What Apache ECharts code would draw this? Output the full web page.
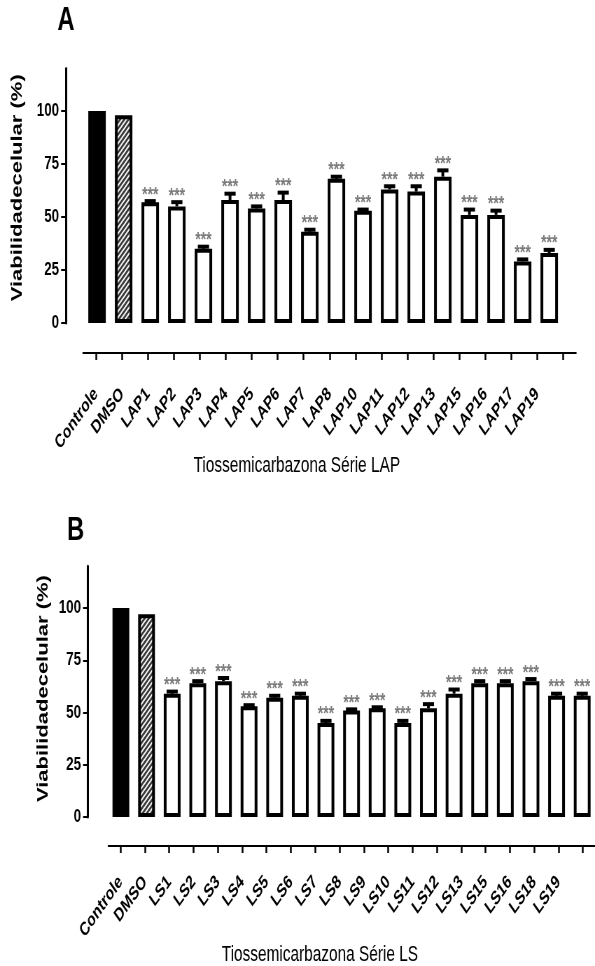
<!DOCTYPE html>
<html>
<head>
<meta charset="utf-8">
<script src="https://cdn.jsdelivr.net/npm/echarts@6/dist/echarts.min.js"></script>
<style>
  html, body { margin: 0; padding: 0; background: #fff; overflow: hidden; width: 595px; height: 966px; }
  /* the figure is laid out on a wider canvas and condensed horizontally */
  #chart { width: 850px; height: 966px; transform: scaleX(0.7); transform-origin: 0 0; }
</style>
</head>
<body>
<div id="chart"></div>
<script>
// ---- Panel A: thiosemicarbazones, LAP series ----
const lapCategories = ['Controle', 'DMSO', 'LAP1', 'LAP2', 'LAP3', 'LAP4', 'LAP5', 'LAP6', 'LAP7', 'LAP8',
  'LAP10', 'LAP11', 'LAP12', 'LAP13', 'LAP15', 'LAP16', 'LAP17', 'LAP19'];
const lapValues = [100, 98, 57, 55, 35, 58, 54, 58, 43, 68, 53, 63, 62, 69, 51, 51, 29, 33];
const lapErrors = [0, 0, 0.5, 2, 1, 3, 1, 3.5, 1, 1, 0.5, 1.5, 2.5, 3, 2.5, 2, 1, 1.5];

// ---- Panel B: thiosemicarbazones, LS series ----
const lsCategories = ['Controle', 'DMSO', 'LS1', 'LS2', 'LS3', 'LS4', 'LS5', 'LS6', 'LS7', 'LS8', 'LS9',
  'LS10', 'LS11', 'LS12', 'LS13', 'LS15', 'LS16', 'LS18', 'LS19'];
const lsValues = [100, 97, 59, 64, 65, 53, 57, 58, 45, 51, 52, 45, 52, 59, 64, 64, 65, 58, 58];
const lsErrors = [0, 0, 1, 1, 1.5, 0.5, 1, 1, 1, 0.5, 0.5, 1, 2, 2, 1, 1, 1, 1, 1];

// ---- shared axis settings ----
const yTicks = [0, 25, 50, 75, 100];
const yMax = 120;
const sigMark = '***';
const yAxisTitle = 'Viabilidadecelular (%)';

const FONT = "'Liberation Sans', Arial, sans-serif";

// diagonal hatch used for the vehicle (DMSO) bar
function makeHatch() {
  const c = document.createElement('canvas');
  c.width = 6; c.height = 6;
  const g = c.getContext('2d');
  g.fillStyle = '#3c3c3c';
  g.fillRect(0, 0, 6, 6);
  g.strokeStyle = '#ffffff';
  g.lineWidth = 1.6;
  g.beginPath();
  g.moveTo(-1, 7); g.lineTo(7, -1);
  g.moveTo(-1, 1); g.lineTo(1, -1);
  g.moveTo(5, 7); g.lineTo(7, 5);
  g.stroke();
  return c;
}
const hatch = { image: makeHatch(), repeat: 'repeat' };

const grids = [], xAxes = [], yAxes = [], series = [];

function addPanel(cats, vals, errs, geo) {
  const gBars = grids.length;
  grids.push({ left: geo.left, top: geo.top, width: geo.width, height: geo.height });
  const gAxis = grids.length;
  grids.push({ left: geo.axLeft, top: geo.axBottom - 10, width: geo.axWidth, height: 10 });

  // bar grid axes
  xAxes.push({ gridIndex: gBars, type: 'category', data: cats, show: false, boundaryGap: true });
  yAxes.push({
    gridIndex: gBars, type: 'value', min: 0, max: yMax, offset: geo.yOffset,
    axisLine: { show: true, lineStyle: { color: '#000', width: 3 } },
    axisTick: { show: true, customValues: yTicks, length: 7, lineStyle: { color: '#000', width: 2 } },
    axisLabel: { customValues: yTicks, margin: 10, color: '#000', fontFamily: FONT, fontSize: 19, fontWeight: 'bold' },
    splitLine: { show: false },
    name: yAxisTitle, nameLocation: 'middle', nameRotate: 90, nameGap: geo.nameGap,
    nameTextStyle: { color: '#000', fontFamily: FONT, fontSize: 22, fontWeight: 'bold', padding: geo.namePad }
  });

  // category axis drawn below the bars, with one trailing empty slot
  xAxes.push({
    gridIndex: gAxis, type: 'category', data: cats.concat(['']), boundaryGap: true,
    axisLine: { show: true, lineStyle: { color: '#000', width: 2 } },
    axisTick: { show: true, interval: 0, alignWithLabel: true, length: 7, lineStyle: { color: '#000', width: 2.5 } },
    axisLabel: { interval: 0, rotate: 45, margin: geo.labelMargin, color: '#000', fontFamily: FONT,
      fontSize: 19, fontWeight: 'bold' }
  });
  yAxes.push({ gridIndex: gAxis, type: 'value', show: false });

  const xi = xAxes.length - 2, yi = yAxes.length - 2;

  series.push({
    type: 'bar', xAxisIndex: xi, yAxisIndex: yi, barWidth: geo.barWidth,
    itemStyle: { borderColor: '#000', borderWidth: 4 },
    data: vals.map((v, i) => ({
      value: v,
      itemStyle: { color: i === 0 ? '#000' : (i === 1 ? hatch : '#fff') }
    })),
    silent: true
  });

  // SEM whiskers and significance marks
  series.push({
    type: 'custom', xAxisIndex: xi, yAxisIndex: yi, clip: false, silent: true,
    data: vals.map((v, i) => [i, v, errs[i]]),
    encode: { x: 0, y: 1 },
    renderItem: function (params, api) {
      const i = api.value(0), v = api.value(1), e = api.value(2);
      const base = api.coord([i, v]);
      const top = api.coord([i, v + e]);
      const children = [];
      if (e > 0) {
        children.push({ type: 'line', shape: { x1: base[0], y1: base[1], x2: top[0], y2: top[1] },
          style: { stroke: '#000', lineWidth: 4 } });
        children.push({ type: 'line', shape: { x1: top[0] - 8, y1: top[1], x2: top[0] + 8, y2: top[1] },
          style: { stroke: '#000', lineWidth: 4 } });
      }
      if (i >= 2) {
        children.push({ type: 'text', style: { text: sigMark, x: top[0], y: top[1] - 6,
          align: 'center', verticalAlign: 'middle', fill: '#7a7a7a',
          font: 'bold 20px ' + FONT } });
      }
      return { type: 'group', children: children };
    }
  });
}

addPanel(lapCategories, lapValues, lapErrors, {
  left: 119.6, top: 68.6, width: 684, height: 254.4, yOffset: 25.3, barWidth: 25,
  axLeft: 118.6, axWidth: 704.3, axBottom: 353, labelMargin: 38,
  nameGap: 58, namePad: [0, 0, 0, 16]
});
addPanel(lsCategories, lsValues, lsErrors, {
  left: 154.4, top: 566.2, width: 704.1, height: 250.8, yOffset: 28.7, barWidth: 24,
  axLeft: 154.8, axWidth: 722.8, axBottom: 846, labelMargin: 33,
  nameGap: 50, namePad: [0, 0, 0, 6]
});

const option = {
  backgroundColor: '#fff',
  animation: false,
  grid: grids,
  xAxis: xAxes,
  yAxis: yAxes,
  series: series,
  graphic: [
    { type: 'text', style: { text: 'A', x: 94.3, y: 3.5, align: 'center', verticalAlign: 'top',
      font: 'bold 34px ' + FONT, fill: '#000' } },
    { type: 'text', style: { text: 'B', x: 108, y: 513.5, align: 'center', verticalAlign: 'top',
      font: 'bold 34px ' + FONT, fill: '#000' } },
    { type: 'text', style: { text: 'Tiossemicarbazona Série LAP', x: 424, y: 466, align: 'center',
      verticalAlign: 'middle', font: '22px ' + FONT, fill: '#000' } },
    { type: 'text', style: { text: 'Tiossemicarbazona Série LS', x: 457, y: 955, align: 'center',
      verticalAlign: 'middle', font: '22px ' + FONT, fill: '#000' } }
  ]
};

const chart = echarts.init(document.getElementById('chart'), null, { renderer: 'canvas', devicePixelRatio: 1 });
chart.setOption(option);
</script>
</body>
</html>
